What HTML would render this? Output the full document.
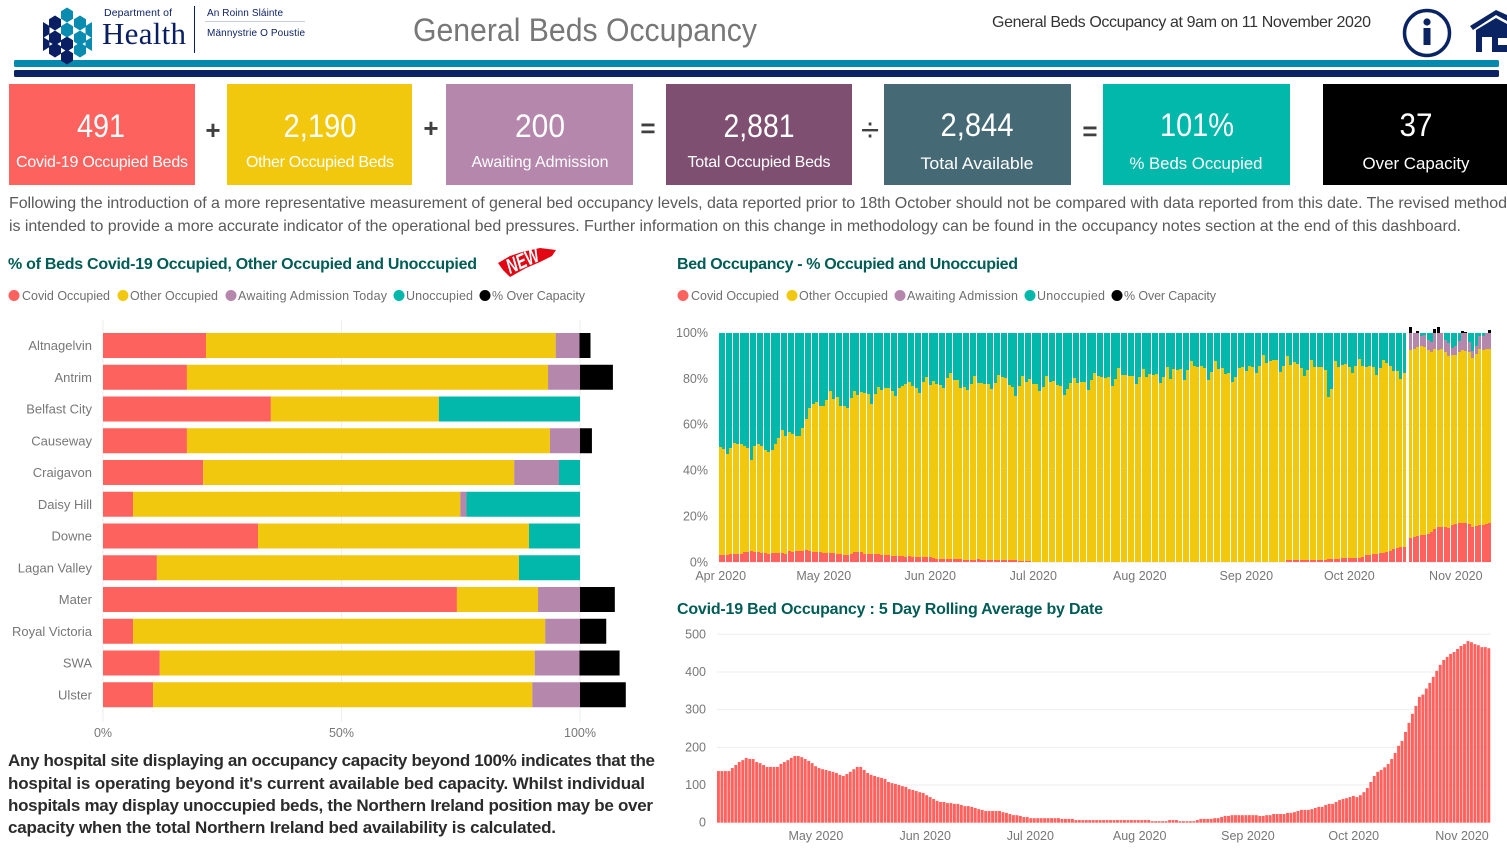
<!DOCTYPE html>
<html lang="en">
<head>
<meta charset="utf-8">
<title>General Beds Occupancy</title>
<style>
html,body{margin:0;padding:0;background:#fff;width:1507px;height:850px;overflow:hidden}
svg{display:block;font-family:"Liberation Sans",sans-serif}
.kn{fill:#fff;font-size:32px;text-anchor:middle}
.kl{fill:#fff;font-size:16px;text-anchor:middle}
.op{fill:#404040;font-size:26px;font-weight:bold;text-anchor:middle}
.ttl{fill:#005c55;font-size:16px;font-weight:bold}
.lg{fill:#6f6f6f;font-size:12.5px}
.para{fill:#5a5a5a;font-size:16px}
.note{fill:#2b2b2b;font-size:17px;font-weight:bold}
.ax{fill:#777;font-size:12.5px}
.hl{fill:#777;font-size:13px}
</style>
</head>
<body>
<svg id="page" xmlns="http://www.w3.org/2000/svg" width="1507" height="850" viewBox="0 0 1507 850">
  <rect x="14" y="60" width="1485" height="7" rx="1.5" fill="#0589ad"/>
  <rect x="14" y="70" width="1485" height="7" rx="1.5" fill="#0b2265"/>

  <g>
    <g fill="#0a1f63">
      <polygon points="55,15.5 61,19.3 61,26.7 55,30.5 49,26.7 49,19.3"/>
      <polygon points="55,30.5 61,34.3 61,41.7 55,45.5 49,41.7 49,34.3"/>
      <polygon points="67,36.5 73,40.3 73,47.7 67,51.5 61,47.7 61,40.3"/>
      <polygon points="55,42.5 61,46.3 61,53.7 55,57.5 49,53.7 49,46.3"/>
      <polygon points="67,49.5 73,53.3 73,60.7 67,64.5 61,60.7 61,53.3"/>
      <polygon points="43,22 49.5,26 49.5,34 43,38"/>
      <polygon points="43,37 49.5,41 49.5,47 43,51"/>
    </g>
    <g fill="#0a8bb0">
      <polygon points="67,7.5 73,11.3 73,18.7 67,22.5 61,18.7 61,11.3"/>
      <polygon points="80,15.5 86,19.3 86,26.7 80,30.5 74,26.7 74,19.3"/>
      <polygon points="67,22.5 73,26.3 73,33.7 67,37.5 61,33.7 61,26.3"/>
      <polygon points="80,30.5 86,34.3 86,41.7 80,45.5 74,41.7 74,34.3"/>
      <polygon points="80,42.5 86,46.3 86,53.7 80,57.5 74,53.7 74,46.3"/>
      <polygon points="92,22 85.5,26 85.5,34 92,38"/>
      <polygon points="92,37 85.5,41 85.5,47 92,51"/>
    </g>
    <text x="104" y="16" font-size="10.5" fill="#0a1f63" textLength="68">Department of</text>
    <text x="102" y="44" font-size="31" fill="#0a1f63" textLength="84" style="font-family:'Liberation Serif',serif">Health</text>
    <rect x="194" y="6" width="1" height="47" fill="#0a1f63"/>
    <text x="207" y="16" font-size="10" fill="#0a1f63" textLength="76">An Roinn Sláinte</text>
    <rect x="205" y="21" width="100" height="1" fill="#c8cede"/>
    <text x="207" y="36" font-size="10" fill="#0a1f63" textLength="98">Männystrie O Poustie</text>
  </g>

  <text x="413" y="41" font-size="32" fill="#777" textLength="344" lengthAdjust="spacingAndGlyphs">General Beds Occupancy</text>
  <text x="992" y="27" font-size="16" fill="#333" textLength="379">General Beds Occupancy at 9am on 11 November 2020</text>

  <g>
    <circle cx="1427" cy="33" r="22.5" fill="#fff" stroke="#0a2463" stroke-width="3.5"/>
    <circle cx="1427" cy="22" r="3.6" fill="#0a2463"/>
    <rect x="1423.5" y="28" width="7" height="17" fill="#0a2463"/>
  </g>
  <g>
    <polygon points="1470,26 1496,10 1507,15 1507,21 1496,15 1473,30" fill="#0a2463"/>
    <polygon points="1476,30 1496,18 1507,24 1507,38 1498,38 1498,45 1507,45 1507,52 1492,52 1492,37 1482,37 1482,52 1476,52" fill="#0a2463"/>
  </g>

  <g>
    <rect x="9" y="84" width="186" height="101" fill="#fd625e"/>
    <text class="kn" x="101" y="137" textLength="48" lengthAdjust="spacingAndGlyphs">491</text>
    <text class="kl" x="102" y="167" textLength="172">Covid-19 Occupied Beds</text>
  </g>
  <g>
    <rect x="227" y="84" width="185" height="101" fill="#f2c80f"/>
    <text class="kn" x="320" y="137" textLength="73" lengthAdjust="spacingAndGlyphs">2,190</text>
    <text class="kl" x="320" y="167" textLength="148">Other Occupied Beds</text>
  </g>
  <g>
    <rect x="446" y="84" width="187" height="101" fill="#b687ac"/>
    <text class="kn" x="540" y="137" textLength="50" lengthAdjust="spacingAndGlyphs">200</text>
    <text class="kl" x="540" y="167" textLength="137">Awaiting Admission</text>
  </g>
  <g>
    <rect x="666" y="84" width="186" height="101" fill="#7f4f71"/>
    <text class="kn" x="759" y="137" textLength="71" lengthAdjust="spacingAndGlyphs">2,881</text>
    <text class="kl" x="759" y="167" textLength="143">Total Occupied Beds</text>
  </g>
  <g>
    <rect x="884" y="84" width="187" height="101" fill="#456a76"/>
    <text class="kn" x="977" y="136" textLength="73" lengthAdjust="spacingAndGlyphs">2,844</text>
    <text class="kl" x="977" y="169" style="font-size:17px" textLength="113" lengthAdjust="spacingAndGlyphs">Total Available</text>
  </g>
  <g>
    <rect x="1103" y="84" width="187" height="101" fill="#01b8aa"/>
    <text class="kn" x="1197" y="136" textLength="74" lengthAdjust="spacingAndGlyphs">101%</text>
    <text class="kl" x="1196" y="169" style="font-size:17px" textLength="133" lengthAdjust="spacingAndGlyphs">% Beds Occupied</text>
  </g>
  <g>
    <rect x="1323" y="84" width="184" height="101" fill="#000"/>
    <text class="kn" x="1416" y="136" textLength="33" lengthAdjust="spacingAndGlyphs">37</text>
    <text class="kl" x="1416" y="169" style="font-size:17px" textLength="107" lengthAdjust="spacingAndGlyphs">Over Capacity</text>
  </g>
  <text class="op" x="213" y="139">+</text>
  <text class="op" x="431" y="137">+</text>
  <text class="op" x="648" y="137">=</text>
  <text class="op" x="870" y="141" style="font-size:33px;font-weight:normal">÷</text>
  <text class="op" x="1090" y="140">=</text>

  <text class="para" x="9" y="208" textLength="1498">Following the introduction of a more representative measurement of general bed occupancy levels, data reported prior to 18th October should not be compared with data reported from this date. The revised method</text>
  <text class="para" x="9" y="231" textLength="1452">is intended to provide a more accurate indicator of the operational bed pressures. Further information on this change in methodology can be found in the occupancy notes section at the end of this dashboard.</text>

  <text class="ttl" x="8" y="269" textLength="469">% of Beds Covid-19 Occupied, Other Occupied and Unoccupied</text>
  <g>
    <polygon points="498,263 510,256 522,252 540,248 556,250 552,256 540,262 526,268 510,277 503,270" fill="#e30613"/>
    <text x="510" y="274" font-size="21" font-weight="bold" font-style="italic" fill="#fff" transform="rotate(-24 510 274)" textLength="34" lengthAdjust="spacingAndGlyphs">NEW</text>
  </g>

  <text class="ttl" x="677" y="269" textLength="341">Bed Occupancy - % Occupied and Unoccupied</text>
  <text class="ttl" x="677" y="614" textLength="426">Covid-19 Bed Occupancy : 5 Day Rolling Average by Date</text>

  <g>
    <circle cx="14" cy="295.5" r="5.5" fill="#fd625e"/><text class="lg" x="22" y="300" textLength="88">Covid Occupied</text>
    <circle cx="123" cy="295.5" r="5.5" fill="#f2c80f"/><text class="lg" x="130" y="300" textLength="88">Other Occupied</text>
    <circle cx="231" cy="295.5" r="5.5" fill="#b687ac"/><text class="lg" x="238" y="300" textLength="149">Awaiting Admission Today</text>
    <circle cx="399" cy="295.5" r="5.5" fill="#01b8aa"/><text class="lg" x="406" y="300" textLength="67">Unoccupied</text>
    <circle cx="485" cy="295.5" r="5.5" fill="#000"/><text class="lg" x="492" y="300" textLength="93">% Over Capacity</text>
  </g>
  <g>
    <circle cx="683" cy="295.5" r="5.5" fill="#fd625e"/><text class="lg" x="691" y="300" textLength="88">Covid Occupied</text>
    <circle cx="792" cy="295.5" r="5.5" fill="#f2c80f"/><text class="lg" x="799" y="300" textLength="89">Other Occupied</text>
    <circle cx="900" cy="295.5" r="5.5" fill="#b687ac"/><text class="lg" x="907" y="300" textLength="111">Awaiting Admission</text>
    <circle cx="1030" cy="295.5" r="5.5" fill="#01b8aa"/><text class="lg" x="1037" y="300" textLength="68">Unoccupied</text>
    <circle cx="1117" cy="295.5" r="5.5" fill="#000"/><text class="lg" x="1124" y="300" textLength="92">% Over Capacity</text>
  </g>

  <g id="hospital-chart"></g>
  <g id="occupancy-chart"></g>
  <g id="covid-chart"></g>

  <g>
    <text class="note" x="8" y="766" textLength="647">Any hospital site displaying an occupancy capacity beyond 100% indicates that the</text>
    <text class="note" x="8" y="789" textLength="637">hospital is operating beyond it's current available bed capacity. Whilst individual</text>
    <text class="note" x="8" y="811" textLength="645">hospitals may display unoccupied beds, the Northern Ireland position may be over</text>
    <text class="note" x="8" y="833" textLength="548">capacity when the total Northern Ireland bed availability is calculated.</text>
  </g>
</svg>

<script>
/* ---------- hospital stacked bars ---------- */
const hospitals = ["Altnagelvin","Antrim","Belfast City","Causeway","Craigavon","Daisy Hill","Downe","Lagan Valley","Mater","Royal Victoria","SWA","Ulster"];
const hospitalCovid = [21.6,17.6,35.2,17.6,21,6.3,32.5,11.3,74.2,6.3,11.9,10.5];
const hospitalOther = [73.3,75.7,35.2,76.1,65.2,68.6,56.8,75.9,17,86.4,78.6,79.5];
const hospitalAwaiting = [5,6.7,0,6.3,9.4,1.3,0,0,8.8,7.3,9.4,10];
const hospitalUnoccupied = [0,0,29.6,0,4.4,23.8,10.7,12.8,0,0,0,0];
const hospitalOver = [2.3,6.9,0,2.5,0,0,0,0,7.3,5.5,8.4,9.6];
const hospitalTicks = [0,50,100];

/* ---------- daily occupancy, % of beds, 1 Apr to 11 Nov 2020 (null = no report) ---------- */
const dailyCovidPct = [
3,3,3,3.5,3.5,3.5,3.5,4.4,4.4,4.8,4.4,4.4,3.9,3.9,3.5,3.9,3.9,3.9,3.9,3.5,4.8,4.4,4.8,4.8,4.8,5.2,4.8,4.4,4.4,4.4,3.9,3.9,3.9,3.9,3.5,3.5,3,3,3.5,4.4,4.4,4.4,3.5,3.5,3.5,3.5,3.5,3,3,3,2.6,2.6,2.6,2.6,2.2,2.6,2.2,2.2,2.2,2.2,2.2,2.2,1.7,1.3,1.3,1.3,1.3,1.3,1.3,1.3,1.3,0.9,0.9,
1.1,1.1,1.3,1.1,1.1,1.1,0.8,0.8,0.8,1,1,0.8,0.8,0.8,0.5,0.5,0.5,0.5,
0,0,0,0,0,0,0,0,0,0,0,0,0,0,0,0,0,0,0,0,0,0,0,0,0,0,0,0,0,0,0,0,0,0,0,0,0,0,0,0,0,0,0,0,0,0,0,0,0,0,0,0,0,0,0,0,0.3,0.3,
0.3,0.3,0.3,0.3,0.3,0.3,0.3,0.3,0.3,0.3,0.3,0.3,0.3,0.3,0.3,0.3,0.9,0.9,0.9,0.9,0.9,0.9,0.9,0.9,0.9,0.9,0.9,0.9,1.3,1.3,1.3,1.3,1.7,1.7,1.7,1.7,1.7,1.7,2.2,3,3.3,3.5,3.5,3.9,3.9,4.4,4.8,5.7,6.1,6.5,6.5,
null,
10.5,10.9,11.3,11.8,11.8,12.2,13.1,14.4,15.3,15.3,15.3,14.8,16.1,16.6,17,17,17,16.6,15.3,15.7,16.1,16.1,16.6,17];

const dailyOccupiedPct = [
50.1,49.3,47.1,49.7,52.2,51.5,51.5,50.9,49.7,44.8,50.6,51.5,50.9,49.1,48,48.8,51.5,54.1,57.6,54.9,56.7,55.8,55.2,54.9,58.4,62.5,67.2,68.9,70,68.3,68,70.6,74.7,71.1,72,68.3,68.3,67.2,71.8,74.6,72.8,74.1,73.8,73.3,69.2,73.5,76.5,75,75.9,75.9,74.6,72.7,75.9,77,77.6,78.5,76.7,75.9,73.7,78.5,80.7,77.2,78.9,77.9,77.2,76.2,80.2,82.4,79.4,79.4,75.9,76.3,75,
77.9,81.1,78.1,78.1,77.6,77.6,75.4,78.1,81.5,80.7,80.2,77.2,76.3,72.4,76.7,81.1,78.5,79.8,77.6,77.6,74.6,76.3,81.1,78.5,78.9,77.2,76.7,72.8,75.4,78.1,80.2,78.1,78.5,78.5,75,79.4,82.4,81.1,80.7,80.2,80.7,76.7,79.8,84.6,81.5,81.5,81.1,81.1,77.6,80.7,84.2,80.7,82,81.5,82,78.1,80.7,85,79.8,84.2,83.7,84.2,79.4,83.7,87.6,85.5,85,85.5,84.6,79.4,82.8,87.6,84.2,84.6,82,82.4,
78.5,80.7,84.6,85,83.3,85.5,85,82.4,85.5,90.3,86.8,87.6,88.1,88.1,82.8,85.5,89.8,85.9,87.2,86.3,84.6,81.1,83.7,88.1,85,85,85,83.7,71.9,75.4,87.6,85,85.9,86.3,85,82.4,85.5,88.5,85.5,85,85.5,85,81.5,84.6,88.1,86.8,85.5,83.3,83.3,79.8,82.4,
null,
92.4,92.9,93.8,94.2,93.8,92.4,91.6,92.9,92.4,92.9,91.6,89.8,90.3,90.3,91.6,92.4,92,91.6,89,90.7,92.9,92.4,92.9,92.9];

const awaitingFirstDay = 201;
const dailyAwaitingPct = [7.6,7.1,6.2,4.5,5.3,4.6,4.4,7.1,7.6,7.1,5.4,5.9,3.2,4.1,4.9,7.6,8,4.4,3,3.7,5.8,6.3,7.1,7.1];
const dailyOverPct = [2.5,0,0.7,0,0,0,0,1.6,2.5,0,0,0,0,0,0,0.7,0.3,0,0,0,0,0,0,1.2];
const occupancyTickLabels = ["Apr 2020","May 2020","Jun 2020","Jul 2020","Aug 2020","Sep 2020","Oct 2020","Nov 2020"];
const occupancyTickDays = [0.5,30.5,61.5,91.5,122.5,153.5,183.5,214.5];
const occupancyYTicks = [0,20,40,60,80,100];

/* ---------- covid 5 day rolling average ---------- */
const covidRolling = [
137,137,137,137,145,153,161,166,172,169,169,161,158,153,148,148,148,148,156,161,166,172,177,177,174,169,164,158,150,145,142,140,137,135,132,127,124,129,135,142,148,148,140,132,127,124,121,119,116,108,105,103,100,97,95,89,87,84,81,79,73,68,63,58,55,55,52,52,50,50,47,44,44,42,39,36,34,31,31,31,31,31,28,26,23,20,20,18,15,15,12,12,12,12,12,12,12,12,12,10,10,10,10,7,7,
7,7,7,7,7,7,7,7,7,7,7,7,7,7,7,7,7,7,7,7,4,4,4,4,4,7,7,7,4,4,4,4,4,
7,10,10,10,10,12,12,15,18,18,20,20,20,20,20,20,20,20,18,18,20,20,23,23,23,23,26,26,28,31,34,34,34,36,39,42,42,47,50,50,55,60,63,65,68,71,68,73,81,92,108,124,135,140,147,156,169,185,204,217,241,265,289,310,334,340,356,371,387,403,419,432,440,448,453,461,469,474,482,479,474,471,466,466,463];
const covidTickLabels = ["May 2020","Jun 2020","Jul 2020","Aug 2020","Sep 2020","Oct 2020","Nov 2020"];
const covidTickDays = [28.5,60,90.3,121.8,153,183.5,214.7];
const covidYTicks = [0,100,200,300,400,500];

const NS = "http://www.w3.org/2000/svg";
const COLORS = {covid:"#fd625e", other:"#f2c80f", awaiting:"#b687ac", unoccupied:"#01b8aa", over:"#000000"};

function make(parent, tag, attrs, text) {
  const el = document.createElementNS(NS, tag);
  for (const k in attrs) el.setAttribute(k, attrs[k]);
  if (text !== undefined) el.textContent = text;
  parent.appendChild(el);
  return el;
}

/* hospital chart */
(function () {
  const g = document.getElementById("hospital-chart");
  const x = v => 103 + v * 4.77;
  const bandTop = i => 333 + i * 31.75;
  const barH = 25;
  hospitalTicks.forEach(t => {
    const line = make(g, "line", {x1:x(t), x2:x(t), y1:320, y2:722, stroke:"#eeeeee", "stroke-width":1});
    
    
    const lab = make(g, "text", {x:x(t), y:737, "text-anchor":"middle", class:"ax"}, t + "%");
    
    
  });
  hospitals.forEach((name, i) => {
    const lab = make(g, "text", {x:92, y:bandTop(i) + 17, "text-anchor":"end", class:"hl"}, name);
    
    
    const parts = [
      [hospitalCovid[i], COLORS.covid, "covid"],
      [hospitalOther[i], COLORS.other, "other"],
      [hospitalAwaiting[i], COLORS.awaiting, "awaiting"],
      [hospitalUnoccupied[i], COLORS.unoccupied, "unoccupied"],
      [hospitalOver[i], COLORS.over, "over-capacity"]
    ];
    let run = 0;
    parts.forEach(p => {
      if (p[0] > 0) {
        const r = make(g, "rect", {x:x(run), y:bandTop(i), width:x(run + p[0]) - x(run), height:barH, fill:p[1]});
        
        
      }
      run += p[0];
    });
  });
})();

/* daily occupancy chart */
(function () {
  const g = document.getElementById("occupancy-chart");
  const x = d => 719 + d * 3.435;
  const y = v => 562.3 - v * 2.293;
  occupancyYTicks.forEach(t => {
    const line = make(g, "line", {x1:719, x2:1491, y1:y(t), y2:y(t), stroke:"#eeeeee", "stroke-width":1});
    
    
    const lab = make(g, "text", {x:708, y:y(t) + 4, "text-anchor":"end", class:"ax"}, t + "%");
    
    
  });
  occupancyTickLabels.forEach((t, i) => {
    const lab = make(g, "text", {x:x(occupancyTickDays[i]), y:580, "text-anchor":"middle", class:"ax"}, t);
    
    
  });
  const seg = (bx, lo, hi, fill, name) => {
    if (hi <= lo) return;
    const top = Math.round(y(hi)), bottom = Math.round(y(lo));
    if (bottom <= top) return;
    const r = make(g, "rect", {x:bx, y:top, width:3, height:bottom - top, fill:fill});
    
    
  };
  dailyCovidPct.forEach((c, d) => {
    if (c === null || dailyOccupiedPct[d] === null) return;
    const bx = Math.round(x(d));
    const occ = dailyOccupiedPct[d];
    const a = d >= awaitingFirstDay ? dailyAwaitingPct[d - awaitingFirstDay] : 0;
    const o = d >= awaitingFirstDay ? dailyOverPct[d - awaitingFirstDay] : 0;
    seg(bx, 0, c, COLORS.covid, "occupancy-bar-covid");
    seg(bx, c, occ, COLORS.other, "occupancy-bar-other");
    seg(bx, occ, occ + a, COLORS.awaiting, "occupancy-bar-awaiting");
    seg(bx, occ + a, 100, COLORS.unoccupied, "occupancy-bar-unoccupied");
    seg(bx, 100, 100 + o, COLORS.over, "occupancy-bar-over-capacity");
  });
})();

/* covid rolling chart */
(function () {
  const g = document.getElementById("covid-chart");
  const x = d => 717 + d * 3.47;
  const y = v => 822.7 - v * 0.3768;
  covidYTicks.forEach(t => {
    if (t > 0) {
      const line = make(g, "line", {x1:717, x2:1491, y1:y(t), y2:y(t), stroke:"#eeeeee", "stroke-width":1});
      
      
    }
    const lab = make(g, "text", {x:706, y:y(t) + 4, "text-anchor":"end", class:"ax"}, t);
    
    
  });
  covidTickLabels.forEach((t, i) => {
    const lab = make(g, "text", {x:x(covidTickDays[i]), y:840, "text-anchor":"middle", class:"ax"}, t);
    
    
  });
  covidRolling.forEach((v, d) => {
    const r = make(g, "rect", {x:x(d), y:y(v), width:2.9, height:y(0) - y(v), fill:COLORS.covid});
    
    
  });
})();
</script>
</body>
</html>
